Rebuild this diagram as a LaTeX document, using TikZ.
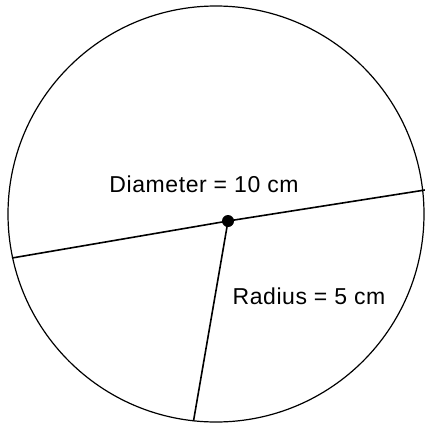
\documentclass[tikz,border=0pt]{standalone}
\usepackage{fontspec}
\setmainfont{Liberation Sans}[LetterSpace=2.5]
\begin{document}
\begin{tikzpicture}[x=1pt,y=-1pt,
  rim/.style={draw=black,line width=1.2pt},
  segment/.style={draw=black,line width=1.6pt},
  lbl/.style={font=\fontsize{23}{26}\selectfont,inner sep=0pt}]
\useasboundingbox (0,0) rectangle (425,423);
\fill[white] (0,0) rectangle (425,423);
\coordinate (O) at (216,214);
\coordinate (P) at (228,221);
\coordinate (L) at (12,258);
\coordinate (R) at (425,190);
\coordinate (B) at (193.5,421);
\draw[rim] (O) circle[radius=208];
\draw[segment] (L) -- (P) -- (R);
\draw[segment] (P) -- (B);
\fill (P) circle[radius=6];
\node[lbl,anchor=base] (dia) at (204,192) {Diameter = 10 cm};
\node[lbl,anchor=base] (rad) at (309,304) {Radius = 5 cm};
\end{tikzpicture}
\end{document}
